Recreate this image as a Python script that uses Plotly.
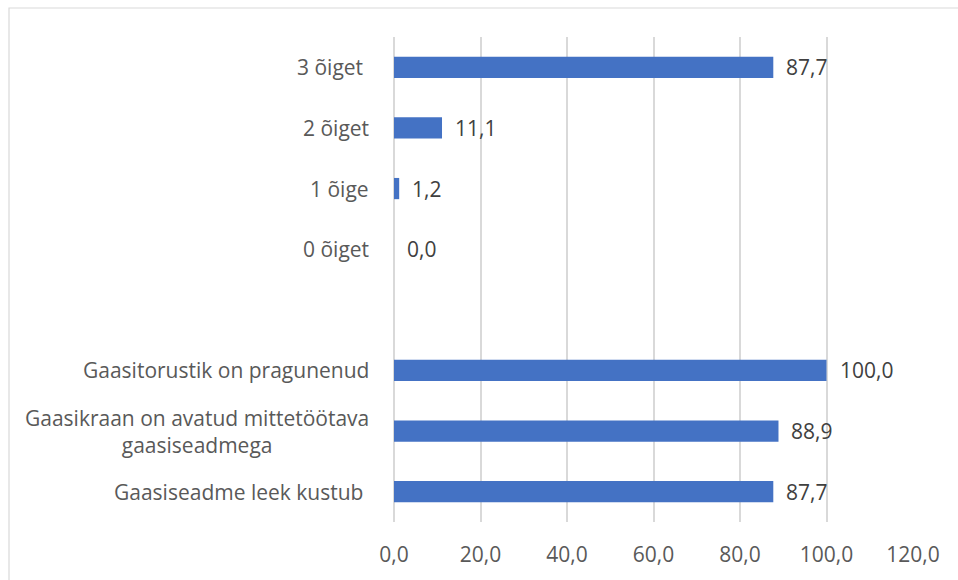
import plotly.graph_objects as go

# Categories from top to bottom; the blank entry is an empty spacer row
categories = [
    "3 õiget ",
    "2 õiget",
    "1 õige",
    "0 õiget",
    " ",
    "Gaasitorustik on pragunenud",
    "Gaasikraan on avatud mittetöötava<br>gaasiseadmega",
    "Gaasiseadme leek kustub ",
]
values = [87.7, 11.1, 1.2, 0.0, None, 100.0, 88.9, 87.7]
x_ticks = [0, 20, 40, 60, 80, 100, 120]

FONT = "Open Sans, Lato, sans-serif"
FS = 21
TEXT_COLOR = "#595959"
GRID = "#d9d9d9"
BAR = "#4472c4"

W, H = 958, 580
ML, MR, MT, MB = 394, 45, 37, 58

fig = go.Figure()
fig.add_trace(go.Bar(
    y=categories,
    x=values,
    orientation="h",
    marker=dict(color=BAR, line=dict(width=0)),
    width=0.35,
    hoverinfo="skip",
))

# Value labels to the right of each bar
for cat, v in zip(categories, values):
    if v is None:
        continue
    fig.add_annotation(
        x=v, y=cat, xref="x", yref="y",
        text=f"{v:.1f}".replace(".", ","),
        showarrow=False, xanchor="left", xshift=11,
        font=dict(family=FONT, size=FS, color="#404040"),
    )

# Category labels, centred line by line (trailing spaces kept as no-break spaces)
for cat in categories:
    if cat.strip() == "":
        continue
    label = cat.rstrip(" ") + "\u00a0" * (len(cat) - len(cat.rstrip(" ")))
    fig.add_annotation(
        x=0, y=cat, xref="x", yref="y",
        text=label, showarrow=False, xanchor="right", xshift=-23,
        align="center",
        font=dict(family=FONT, size=FS, color=TEXT_COLOR),
    )

# Outer frame of the chart area
plot_w = W - ML - MR
plot_h = H - MT - MB
fig.add_shape(
    type="rect", xref="paper", yref="paper",
    x0=(9 - ML) / plot_w, x1=(W + 20 - ML) / plot_w,
    y0=(H - MB - (H + 20)) / plot_h, y1=(H - MB - 8) / plot_h,
    line=dict(color=GRID, width=1.2), fillcolor="rgba(0,0,0,0)", layer="below",
)

fig.update_layout(
    width=W, height=H,
    margin=dict(l=ML, r=MR, t=MT, b=MB),
    paper_bgcolor="white", plot_bgcolor="white",
    showlegend=False,
    separators=", ",
    font=dict(family=FONT, size=FS, color=TEXT_COLOR),
    xaxis=dict(
        range=[0, 120], tickvals=x_ticks, tickformat=".1f",
        showgrid=True, gridcolor=GRID, gridwidth=1.5,
        zeroline=True, zerolinecolor=GRID, zerolinewidth=1.5,
        showline=False, ticks="", ticklabelstandoff=18,
        tickfont=dict(family=FONT, size=FS, color=TEXT_COLOR),
        fixedrange=True,
    ),
    yaxis=dict(
        categoryorder="array", categoryarray=categories,
        autorange="reversed",
        showticklabels=False, showgrid=False, zeroline=False, showline=False,
        ticks="", fixedrange=True,
    ),
)

fig.write_html("out.html")
